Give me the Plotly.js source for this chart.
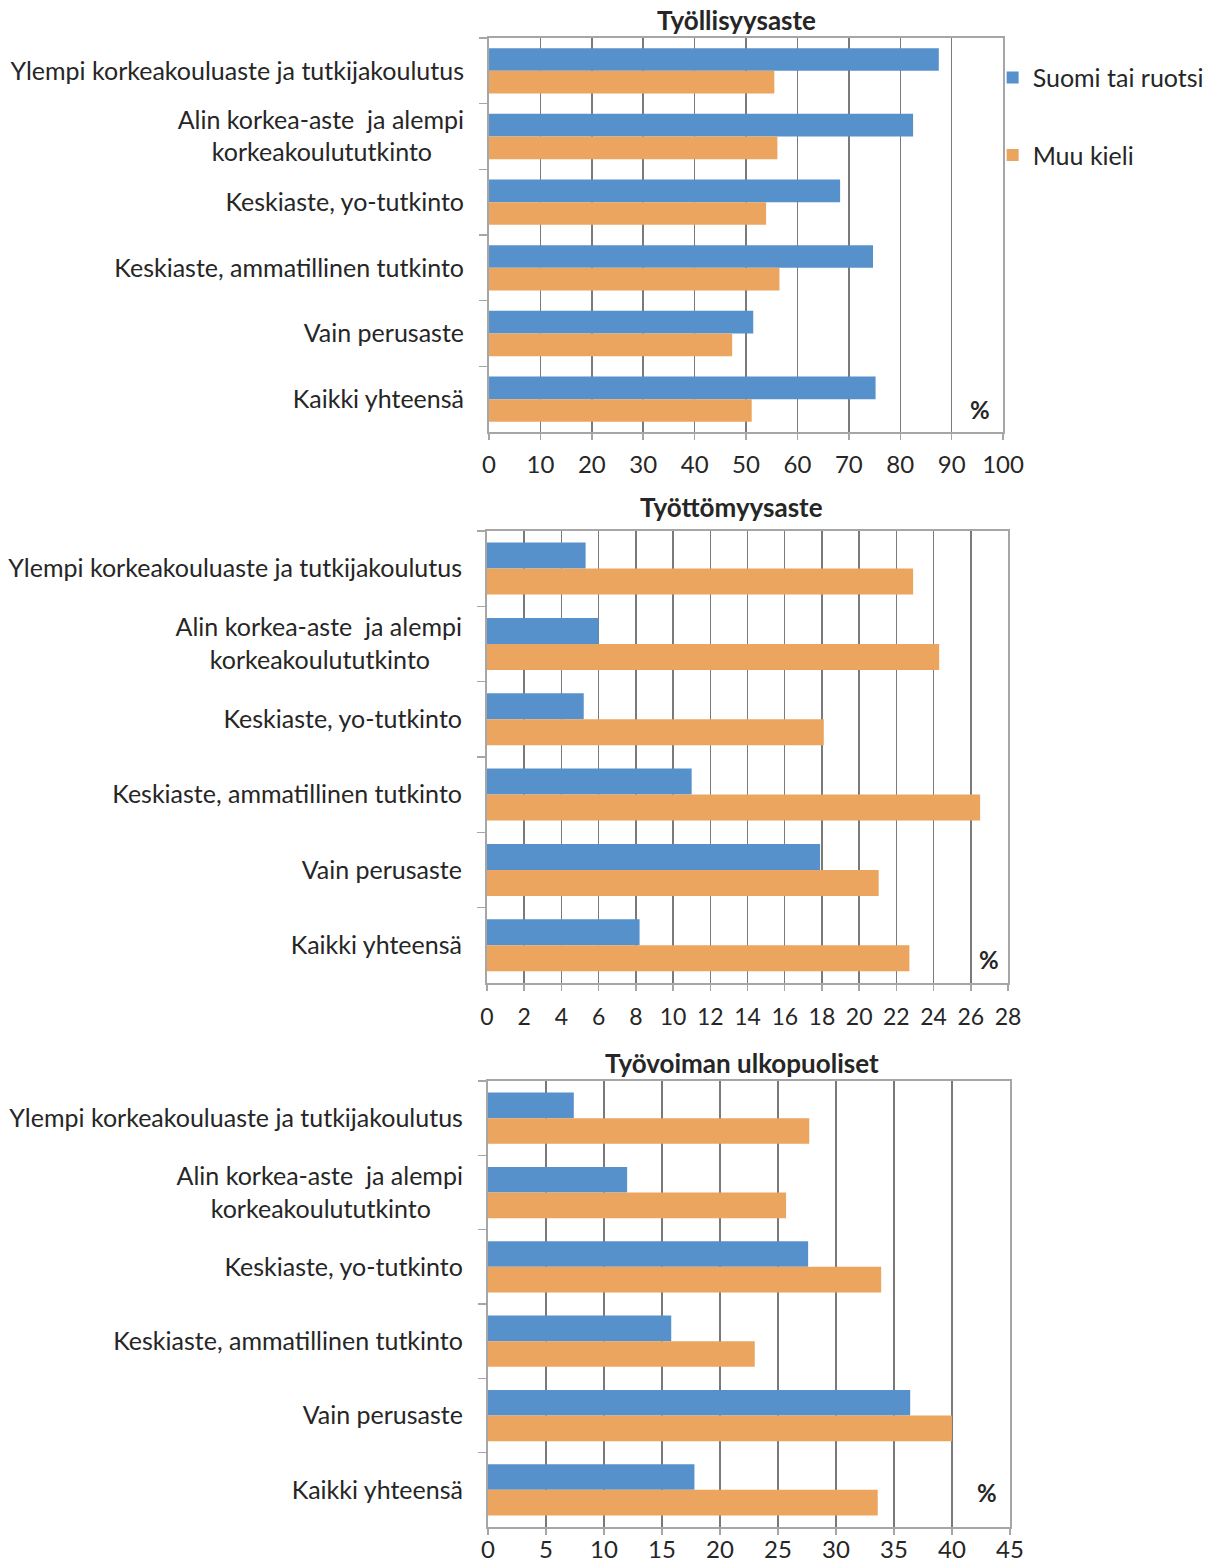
<!DOCTYPE html>
<html>
<head>
<meta charset="utf-8">
<script src="https://cdn.plot.ly/plotly-3.0.1.min.js"></script>
<style>html,body{margin:0;padding:0;background:#fff;}#chart{width:1212px;height:1562px;}</style>
</head>
<body>
<div id="chart"></div>
<script>
// Categories, top to bottom (display labels)
const categories = [
  "Ylempi korkeakouluaste ja tutkijakoulutus",
  "Alin korkea-aste\u00a0 ja alempi<br>korkeakoulututkinto\u00a0\u00a0\u00a0\u00a0\u00a0",
  "Keskiaste, yo-tutkinto",
  "Keskiaste, ammatillinen tutkinto",
  "Vain perusaste",
  "Kaikki yhteensä"
];
const seriesNames = ["Suomi tai ruotsi", "Muu kieli"];
const panelTitles = ["Työllisyysaste", "Työttömyysaste", "Työvoiman ulkopuoliset"];

// Työllisyysaste (%)
const employmentFinSwe = [87.5, 82.5, 68.3, 74.7, 51.4, 75.2];
const employmentOther  = [55.5, 56.1, 53.9, 56.5, 47.3, 51.1];
// Työttömyysaste (%)
const unemploymentFinSwe = [5.3, 6.0, 5.2, 11.0, 17.9, 8.2];
const unemploymentOther  = [22.9, 24.3, 18.1, 26.5, 21.05, 22.7];
// Työvoiman ulkopuoliset (%)
const outsideFinSwe = [7.4, 12.0, 27.6, 15.8, 36.4, 17.8];
const outsideOther  = [27.7, 25.7, 33.9, 23.0, 40.0, 33.6];

const blue = "#5691CB";
const orange = "#EBA55F";
const font = "Lato, 'Open Sans', sans-serif";
const textColor = "#262626";

const panels = [
  {a: employmentFinSwe, b: employmentOther, xa: "x", ya: "y"},
  {a: unemploymentFinSwe, b: unemploymentOther, xa: "x2", ya: "y2"},
  {a: outsideFinSwe, b: outsideOther, xa: "x3", ya: "y3"}
];

const data = [];
panels.forEach((p, i) => {
  data.push({type: "bar", orientation: "h", name: seriesNames[0], x: p.a, y: categories,
    xaxis: p.xa, yaxis: p.ya, marker: {color: blue}, showlegend: i === 0, legendgroup: "a", hoverinfo: "x+y"});
  data.push({type: "bar", orientation: "h", name: seriesNames[1], x: p.b, y: categories,
    xaxis: p.xa, yaxis: p.ya, marker: {color: orange}, showlegend: i === 0, legendgroup: "b", hoverinfo: "x+y"});
});

function xax(domain, range, dtick, anchor, standoff, fs) {
  return {domain: domain, range: range, dtick: dtick, tick0: 0, anchor: anchor,
    showgrid: true, gridcolor: "#7a7a7a", gridwidth: 1.5,
    showline: true, linecolor: "#a6a6a6", linewidth: 2, mirror: true,
    ticks: "outside", ticklen: 6, tickcolor: "#a6a6a6", tickwidth: 1.5,
    ticklabelstandoff: standoff,
    zeroline: false, fixedrange: true,
    tickfont: {family: font, size: fs, color: textColor}};
}
function yax(domain, anchor) {
  return {domain: domain, anchor: anchor, type: "category", categoryarray: categories,
    autorange: "reversed", tickson: "boundaries", ticks: "outside", ticklen: 8,
    tickcolor: "#a6a6a6", tickwidth: 1.5,
    showline: true, linecolor: "#a6a6a6", linewidth: 2, mirror: true,
    showgrid: false, zeroline: false, fixedrange: true, ticklabelstandoff: 18,
    tickfont: {family: font, size: 25, color: textColor}};
}

function title(text, xpx, ypx) {
  return {text: "<b>" + text + "</b>", xref: "paper", yref: "paper", x: xpx/1212, y: 1 - ypx/1562,
    xanchor: "center", yanchor: "middle", showarrow: false,
    font: {family: font, size: 26, color: textColor}};
}
function pct(xref, yref, x, y) {
  return {text: "<b>%</b>", xref: xref, yref: yref, x: x, y: y, xanchor: "center", yanchor: "middle",
    showarrow: false, font: {family: font, size: 24, color: textColor}};
}

const layout = {
  width: 1212, height: 1562,
  margin: {l: 0, r: 0, t: 0, b: 0},
  paper_bgcolor: "#fff", plot_bgcolor: "#fff",
  barmode: "group", bargap: 0.31, bargroupgap: 0,
  font: {family: font, color: textColor},
  xaxis: xax([0.4035, 0.8276], [0, 100], 10, "y", 4, 24),
  yaxis: yax([0.7234, 0.9757], "x"),
  xaxis2: xax([0.4018, 0.8317], [0, 28], 2, "y2", 6, 23),
  yaxis2: yax([0.3707, 0.6601], "x2"),
  xaxis3: xax([0.4026, 0.8333], [0, 45], 5, "y3", -6, 24),
  yaxis3: yax([0.0224, 0.3079], "x3"),
  legend: {x: 0.819, y: 0.965, xanchor: "left", yanchor: "top",
    font: {family: font, size: 25, color: textColor}, tracegroupgap: 42,
    traceorder: "grouped", bgcolor: "rgba(0,0,0,0)"},
  annotations: [
    title(panelTitles[0], 736, 20),
    title(panelTitles[1], 731, 507),
    title(panelTitles[2], 742, 1063),
    pct("x domain", "y domain", 0.955, 0.056),
    pct("x2 domain", "y2 domain", 0.9635, 0.051),
    pct("x3 domain", "y3 domain", 0.956, 0.078)
  ]
};

Plotly.newPlot("chart", data, layout, {staticPlot: true, displayModeBar: false});
</script>
</body>
</html>
